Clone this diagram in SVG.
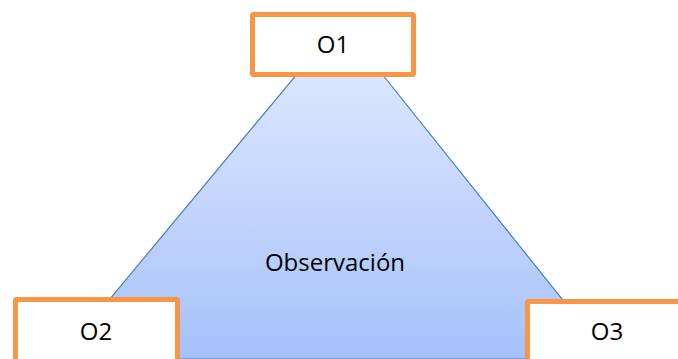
<svg xmlns="http://www.w3.org/2000/svg" width="678" height="359" viewBox="0 0 678 359">
<defs>
<linearGradient id="g" x1="0" y1="0" x2="0" y2="1">
<stop offset="0" stop-color="#dae6fd"/>
<stop offset="1" stop-color="#a6c1fa"/>
</linearGradient>
<style>
.box{fill:#ffffff;stroke:#f79646;stroke-width:5}
.t{font-family:"Open Sans","Liberation Sans",sans-serif;font-size:24px;fill:#000;text-anchor:middle}
</style>
</defs>
<g id="triangle">
<polygon points="297,74 382,74 610,359 60,359" fill="url(#g)" stroke="#4a7ebb" stroke-width="1.2"/>
<text class="t" x="335" y="271">Observación</text>
</g>
<g id="O1">
<rect class="box" x="252.5" y="14.5" width="161" height="60" rx="1"/>
<text class="t" x="333" y="53">O1</text>
</g>
<g id="O2">
<rect class="box" x="15.5" y="299.5" width="162" height="80" rx="1"/>
<text class="t" x="96" y="340">O2</text>
</g>
<g id="O3">
<rect class="box" x="527.5" y="301.5" width="170" height="80" rx="1"/>
<text class="t" x="607" y="340">O3</text>
</g>
<g id="connectors"/>
</svg>
